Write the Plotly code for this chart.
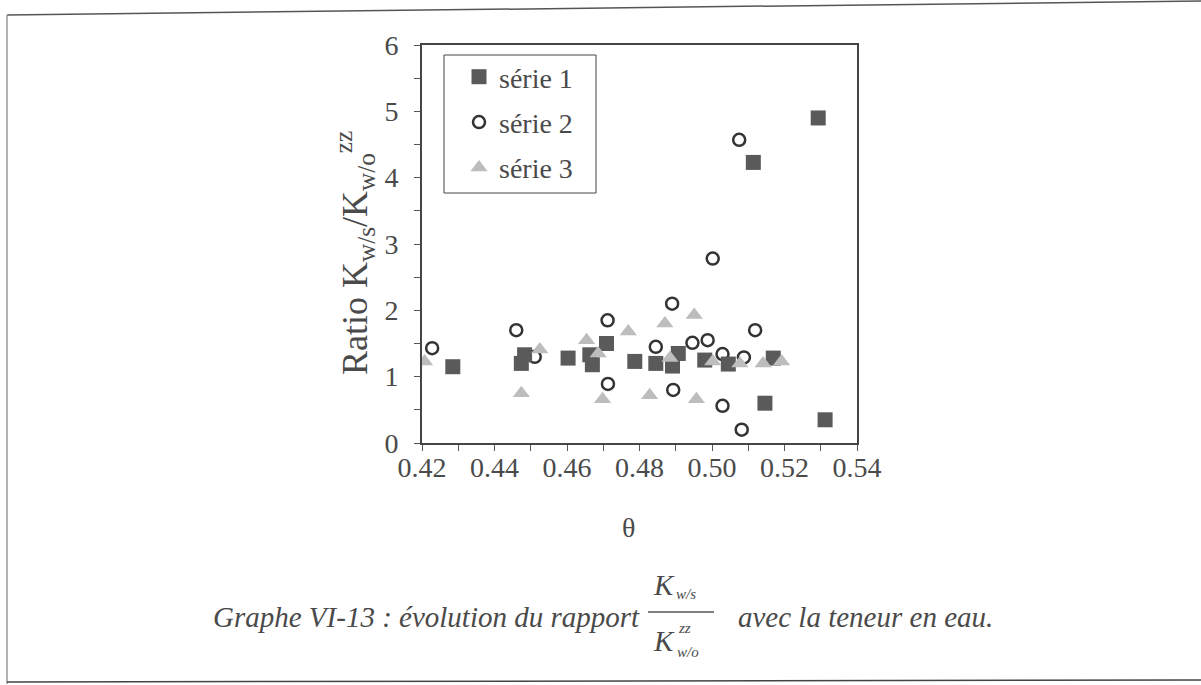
import plotly.graph_objects as go

# ---------------- data ----------------
s1_theta = [0.4285, 0.4474, 0.4483, 0.4603, 0.4663, 0.4670, 0.4709, 0.4787, 0.4845,
            0.4891, 0.4907, 0.4980, 0.5045, 0.5169, 0.5146, 0.5114, 0.5293, 0.5312]
s1_ratio = [1.15, 1.20, 1.33, 1.28, 1.33, 1.18, 1.50, 1.23, 1.20,
            1.16, 1.35, 1.25, 1.19, 1.28, 0.60, 4.23, 4.90, 0.35]

s2_theta = [0.4228, 0.4460, 0.4511, 0.4712, 0.4713, 0.4845, 0.4890, 0.4893, 0.4946,
            0.4988, 0.5002, 0.5029, 0.5029, 0.5075, 0.5082, 0.5088, 0.5119]
s2_ratio = [1.43, 1.70, 1.30, 1.85, 0.89, 1.45, 2.10, 0.80, 1.51,
            1.55, 2.78, 1.34, 0.56, 4.57, 0.20, 1.29, 1.70]

s3_theta = [0.4207, 0.4474, 0.4525, 0.4654, 0.4686, 0.4698, 0.4769, 0.4828, 0.4870,
            0.4884, 0.4951, 0.4957, 0.5002, 0.5077, 0.5141, 0.5192]
s3_ratio = [1.23, 0.75, 1.41, 1.55, 1.35, 0.66, 1.68, 0.72, 1.80,
            1.28, 1.93, 0.66, 1.23, 1.20, 1.20, 1.23]

series_names = ["série 1", "série 2", "série 3"]
x_ticks = [0.42, 0.44, 0.46, 0.48, 0.50, 0.52, 0.54]
x_ticklabels = ["0.42", "0.44", "0.46", "0.48", "0.50", "0.52", "0.54"]
y_ticks = [0, 1, 2, 3, 4, 5, 6]

# ---------------- layout geometry ----------------
W, H = 1201, 685
L, R, T, B = 422, 857, 45, 443   # plot area in pixels


def px(x):
    return (x - L) / (R - L)


def py(y):
    return (B - y) / (B - T)


SERIF = "Liberation Serif, Times New Roman, serif"
TXT = "#4a4a4a"

fig = go.Figure()

fig.add_trace(go.Scatter(
    x=s2_theta, y=s2_ratio, mode="markers", name=series_names[1],
    legendrank=2, legendgroup="g2",
    marker=dict(symbol="circle-open", size=12, color="#333333", line=dict(width=2.5, color="#333333")),
))
fig.add_trace(go.Scatter(
    x=s1_theta, y=s1_ratio, mode="markers", name=series_names[0],
    legendrank=1, legendgroup="g1",
    marker=dict(symbol="square", size=15, color="#5a5a5a"),
))
fig.add_trace(go.Scatter(
    x=s3_theta, y=s3_ratio, mode="markers", name=series_names[2],
    legendrank=3, legendgroup="g3",
    marker=dict(symbol="triangle-up", size=15, color="#bdbdbd"),
))

axis_common = dict(
    showgrid=False, zeroline=False, showline=True, mirror=True,
    linecolor="#444444", linewidth=2,
    ticks="outside", ticklen=6, tickwidth=1, tickcolor="#555555",
    tickfont=dict(family=SERIF, size=28, color=TXT),
)

fig.update_xaxes(
    range=[0.42, 0.54], tickvals=x_ticks, ticktext=x_ticklabels,
    ticklabelstandoff=-8,
    minor=dict(dtick=0.01, ticks="outside", ticklen=6, tickcolor="#555555"),
    **axis_common,
)
fig.update_yaxes(
    range=[0, 6], tickvals=y_ticks,
    ticklabelstandoff=10,
    minor=dict(dtick=0.5, ticks="outside", ticklen=6, tickcolor="#555555"),
    **axis_common,
)


def ann(text, x, y, size=28, xanchor="center", yanchor="middle", angle=0, italic=False):
    return dict(text=text, x=px(x), y=py(y), xref="paper", yref="paper",
                xanchor=xanchor, yanchor=yanchor, textangle=angle, showarrow=False,
                font=dict(family=SERIF, size=size, color=TXT,
                          style="italic" if italic else "normal"))


annotations = [
    ann("θ", 628, 527),
    ann("Ratio K<sub>w/s</sub>/K<sub>w/o</sub><sup>zz</sup>", 355, 253, size=36, angle=-90),
    ann("Graphe VI-13 : évolution du rapport", 642, 617, size=29, xanchor="right", italic=True),
    # fraction K_w/s / K^zz_w/o
    ann("K", 664, 585, size=29, italic=True),
    ann("w/s", 686, 594, size=15, italic=True),
    ann("K", 664, 641, size=29, italic=True),
    ann("zz", 684, 628, size=15, italic=True),
    ann("w/o", 688, 652, size=15, italic=True),
    ann("avec la teneur en eau.", 736, 617, size=29, xanchor="left", italic=True),
]

shapes = [
    # legend box
    dict(type="rect", xref="paper", yref="paper", x0=px(444), x1=px(596), y0=py(55), y1=py(193),
         line=dict(color="#444444", width=1), fillcolor="rgba(0,0,0,0)", layer="above"),
    # fraction bar
    dict(type="line", xref="paper", yref="paper", x0=px(648), x1=px(714), y0=py(612), y1=py(612),
         line=dict(color="#555555", width=1.5)),
    # page frame
    dict(type="line", xref="paper", yref="paper", x0=px(7), x1=px(1201), y0=py(15), y1=py(1),
         line=dict(color="#555555", width=1.5)),
    dict(type="line", xref="paper", yref="paper", x0=px(7), x1=px(7), y0=py(15), y1=py(684),
         line=dict(color="#999999", width=1.5)),
    dict(type="line", xref="paper", yref="paper", x0=px(7), x1=px(1201), y0=py(682), y1=py(680),
         line=dict(color="#444444", width=1.5)),
]

fig.update_layout(
    width=W, height=H,
    margin=dict(l=L, r=W - R, t=T, b=H - B, autoexpand=False),
    paper_bgcolor="white", plot_bgcolor="white",
    showlegend=True,
    legend=dict(
        x=px(459), y=py(52), xanchor="left", yanchor="top",
        borderwidth=0, bgcolor="rgba(0,0,0,0)",
        font=dict(family=SERIF, size=28, color=TXT),
        tracegroupgap=6, itemwidth=30,
    ),
    annotations=annotations,
    shapes=shapes,
)

fig.write_html("out.html", config={"displayModeBar": False},
               post_script="document.body.style.margin='0';")
